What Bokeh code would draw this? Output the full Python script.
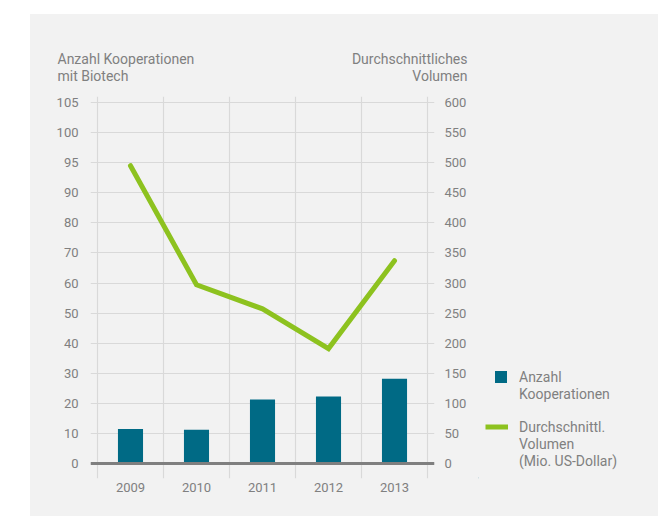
from bokeh.plotting import figure
from bokeh.models import Range1d, LinearAxis, FixedTicker, Span, Legend, LegendItem
from bokeh.core.properties import value
from bokeh.layouts import column, row
from bokeh.embed import file_html
from bokeh.resources import INLINE

years = ["2009", "2010", "2011", "2012", "2013"]
kooperationen = [11.5, 11.2, 21.3, 22.3, 28.2]
volumen = [495, 297, 257, 191, 337]
left_ticks = [0, 10, 20, 30, 40, 50, 60, 70, 80, 90, 100, 110, 120]
left_tick_labels = ["0", "10", "20", "30", "40", "50", "60", "70", "80", "90", "95", "100", "105"]
right_ticks = [0, 50, 100, 150, 200, 250, 300, 350, 400, 450, 500, 550, 600]
left_title = ["Anzahl Kooperationen", "mit Biotech"]
right_title = ["Durchschnittliches", "Volumen"]
legend_bar = ["Anzahl", "Kooperationen"]
legend_line = ["Durchschnittl.", "Volumen", "(Mio. US-Dollar)"]

FONT = "Roboto"
GREY = "#808080"
BLUE = "#006a85"
GREEN = "#8dc21f"
BG = "#f2f2f2"

xs = list(range(len(years)))


def style_fig(f):
    f.background_fill_color = BG
    f.border_fill_color = BG
    f.outline_line_color = None


# ---------------- top strip with axis titles ----------------
top = figure(width=628, height=82, x_range=Range1d(0, 628), y_range=Range1d(0, 82),
             x_axis_type=None, y_axis_type=None, min_border=0,
             output_backend="svg", toolbar_location=None)
style_fig(top)
top.xgrid.visible = False
top.ygrid.visible = False
top.text(x=[27, 27], y=[38, 20.5], text=left_title, text_font=value(FONT),
         text_font_size="14px", text_color=GREY, text_align="left", text_baseline="alphabetic")
top.text(x=[437, 437], y=[38, 20.5], text=right_title, text_font=value(FONT),
         text_font_size="14px", text_color=GREY, text_align="right", text_baseline="alphabetic")

# ---------------- main chart ----------------
main = figure(frame_width=344, frame_height=382,
              min_border_left=60, min_border_right=44, min_border_top=0, min_border_bottom=38,
              x_range=Range1d(-0.606, 4.606), y_range=Range1d(-4.986, 122.0),
              output_backend="svg", toolbar_location=None)
style_fig(main)
main.extra_y_ranges = {"vol": Range1d(-4.986 * 5, 122.0 * 5)}

xaxis = main.xaxis[0]
left = main.yaxis[0]
right = LinearAxis(y_range_name="vol", ticker=FixedTicker(ticks=right_ticks))
main.add_layout(right, "right")
for ax in [xaxis, left, right]:
    ax.axis_line_color = None
    ax.major_tick_line_color = None
    ax.minor_tick_line_color = None
    ax.major_tick_out = 0
    ax.major_tick_in = 0
    ax.minor_tick_out = 0
    ax.major_label_text_font = FONT
    ax.major_label_text_font_size = "13px"
    ax.major_label_text_color = GREY
xaxis.ticker = FixedTicker(ticks=xs)
xaxis.major_label_overrides = {i: y for i, y in zip(xs, years)}
xaxis.major_label_standoff = 4
left.ticker = FixedTicker(ticks=left_ticks)
left.major_label_overrides = {t: l for t, l in zip(left_ticks, left_tick_labels)}
left.major_label_standoff = 12
right.major_label_standoff = 10

main.xgrid.ticker = FixedTicker(ticks=[i - 0.5 for i in range(len(years) + 1)])
main.ygrid.ticker = FixedTicker(ticks=left_ticks)
for g in [main.xgrid[0], main.ygrid[0]]:
    g.grid_line_color = "#d9d9d9"
    g.grid_line_width = 1.2

main.vbar(x=xs, top=kooperationen, width=0.38, fill_color=BLUE, line_color=None)
main.line(xs, volumen, y_range_name="vol", line_color=GREEN, line_width=5,
          line_join="miter", line_cap="round")
main.add_layout(Span(location=0, dimension="width", line_color="#7f7f7f", line_width=3))

# ---------------- legend panel ----------------
side = figure(width=180, height=420, x_range=Range1d(0, 180), y_range=Range1d(0, 420),
              x_axis_type=None, y_axis_type=None, min_border=0,
              output_backend="svg", toolbar_location=None)
style_fig(side)
side.xgrid.visible = False
side.ygrid.visible = False
# proxies for the legend swatches (kept outside the visible range)
lb = side.vbar(x=[-100], top=[1], width=1, fill_color=BLUE, line_color=None)
ll = side.line(x=[-100, -99], y=[1, 1], line_color=GREEN, line_width=5)

common = dict(padding=0, margin=0, spacing=0, label_standoff=11,
              label_text_font=FONT, label_text_font_size="14px", label_text_color=GREY,
              label_height=17,
              border_line_color=None, background_fill_alpha=0)
items1 = [LegendItem(label=legend_bar[0], renderers=[lb])] + \
         [LegendItem(label=t) for t in legend_bar[1:]]
items2 = [LegendItem(label=legend_line[0], renderers=[ll])] + \
         [LegendItem(label=t) for t in legend_line[1:]]
leg1 = Legend(items=items1, location=(15, 76), glyph_width=15, glyph_height=15, **common)
leg2 = Legend(items=items2, location=(7, 9), glyph_width=23, glyph_height=15, **common)
side.add_layout(leg1)
side.add_layout(leg2)

inner = row(main, side)
inner.styles = {"background-color": BG}
layout = column(top, inner)
layout.styles = {"background-color": BG}
layout.margin = (14, 0, 0, 30)

open("out.html", "w").write(file_html(layout, INLINE))
